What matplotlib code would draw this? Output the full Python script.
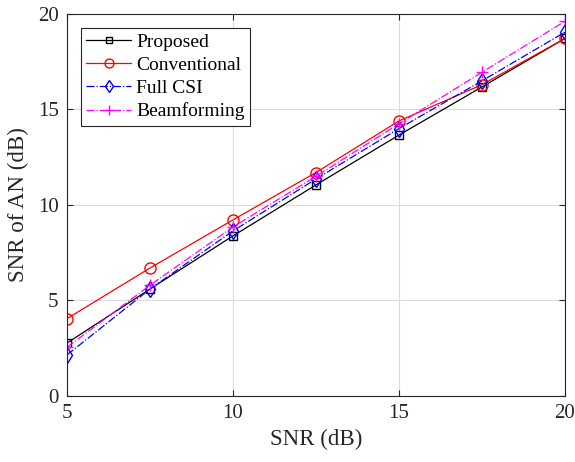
import matplotlib
matplotlib.use("Agg")
import matplotlib.pyplot as plt

snr = [5, 7.5, 10, 12.5, 15, 17.5, 20]
proposed = [2.77, 5.6, 8.38, 11.05, 13.66, 16.18, 18.72]
conventional = [4.05, 6.7, 9.22, 11.7, 14.4, 16.3, 18.72]
full_csi = [2.15, 5.6, 8.64, 11.36, 14.0, 16.5, 19.05]
beamforming = [2.55, 5.8, 8.85, 11.5, 14.25, 16.95, 19.62]

plt.rcParams['font.family'] = ['Liberation Serif', 'DejaVu Serif']
plt.rcParams['mathtext.fontset'] = 'stix'

fig = plt.figure(figsize=(5.75, 4.62), dpi=100)
ax = fig.add_axes([0.1165, 0.1429, 0.866, 0.8268])

ax.plot(snr, proposed, color='black', marker='s', markersize=6, markerfacecolor='none',
        linewidth=0.9, label='Proposed')
ax.plot(snr, conventional, color='red', marker='o', markersize=8, markerfacecolor='none',
        linewidth=0.9, label='Conventional')
ax.plot(snr, full_csi, color='blue', marker='d', markersize=8, markerfacecolor='none',
        linewidth=0.9, linestyle='-.', label='Full CSI')
ax.plot(snr, beamforming, color='magenta', marker='+', markersize=9,
        linewidth=0.9, linestyle='-.', label='Beamforming')

ax.set_xlim(5, 20)
ax.set_ylim(0, 20)
ax.set_xticks([5, 10, 15, 20])
ax.set_yticks([0, 5, 10, 15, 20])
ax.grid(True, color='#dcdcdc', linewidth=0.8)
ax.set_axisbelow(True)
ax.tick_params(direction='in', top=True, right=True, labelsize=15, length=4,
               color='#262626', labelcolor='#262626', pad=6)
for s in ax.spines.values():
    s.set_linewidth(0.8)
    s.set_color('#262626')

ax.set_xlabel('SNR (dB)', fontsize=16.5, color='#262626', labelpad=4)
ax.set_ylabel('SNR of AN (dB)', fontsize=16.5, color='#262626', labelpad=6)

leg = ax.legend(loc='upper left', fontsize=14, fancybox=False, framealpha=1,
                edgecolor='#262626', borderaxespad=0.7, handlelength=2.3,
                labelspacing=0.28, borderpad=0.3, handletextpad=0.25)
leg.get_frame().set_linewidth(0.8)
for h in leg.legend_handles:
    h.set_markersize(h.get_markersize() * 0.8)

fig.savefig('out.png', dpi=100)
